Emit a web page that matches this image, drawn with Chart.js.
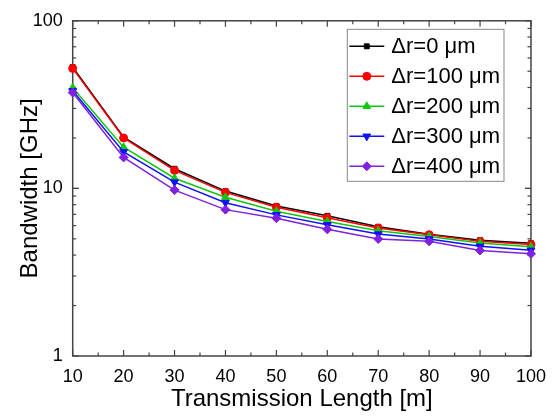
<!DOCTYPE html>
<html>
<head>
<meta charset="utf-8">
<script src="https://cdn.jsdelivr.net/npm/chart.js@4.4.1/dist/chart.umd.min.js"></script>
<style>
html, body { margin: 0; padding: 0; background: #fff; }
</style>
</head>
<body>
<canvas id="bandwidth" width="556" height="416"></canvas>
<script>
const lengths = [10, 20, 30, 40, 50, 60, 70, 80, 90, 100];
const seriesLabels = ['Δr=0 μm', 'Δr=100 μm', 'Δr=200 μm', 'Δr=300 μm', 'Δr=400 μm'];
const bw0   = [52.9, 20.2, 13.1, 9.64, 7.86, 6.86, 5.90, 5.33, 4.91, 4.71];
const bw100 = [52.0, 20.0, 12.8, 9.47, 7.72, 6.69, 5.80, 5.29, 4.83, 4.62];
const bw200 = [39.9, 17.6, 11.5, 8.85, 7.31, 6.35, 5.59, 5.17, 4.73, 4.48];
const bw300 = [38.2, 16.5, 10.9, 8.22, 6.95, 6.06, 5.34, 4.99, 4.51, 4.27];
const bw400 = [37.3, 15.3, 9.77, 7.47, 6.64, 5.70, 4.99, 4.83, 4.26, 4.07];
const yTickValues = [1, 10, 100];

const FONT = "'Liberation Sans', Arial, sans-serif";
const AXIS = '#444';

const styles = [
    { color: '#000000', pointStyle: 'rect', radius: 3.5, rotation: 0 },
    { color: '#ff0000', pointStyle: 'circle', radius: 4, rotation: 0 },
    { color: '#10c810', pointStyle: 'triangle', radius: 4.5, rotation: 0 },
    { color: '#1010ff', pointStyle: 'triangle', radius: 4.5, rotation: 180 },
    { color: '#8020e0', pointStyle: 'rectRot', radius: 4.5, rotation: 0 }
];
const allSeries = [bw0, bw100, bw200, bw300, bw400];

const datasets = allSeries.map((vals, i) => ({
    label: seriesLabels[i],
    data: lengths.map((x, j) => ({ x: x, y: vals[j] })),
    borderColor: styles[i].color,
    backgroundColor: styles[i].color,
    pointBackgroundColor: styles[i].color,
    pointBorderColor: styles[i].color,
    pointBorderWidth: 1,
    pointStyle: styles[i].pointStyle,
    pointRadius: styles[i].radius,
    pointRotation: styles[i].rotation,
    borderWidth: 1.5,
    tension: 0,
    clip: false,
    order: allSeries.length - i
}));

// box round the plot with inward ticks on all four sides
const frame = {
    id: 'frame',
    beforeDatasetsDraw(chart) {
        const { ctx, chartArea: a, scales } = chart;
        const xs = scales.x, ys = scales.y;
        ctx.save();
        ctx.strokeStyle = AXIS;
        ctx.lineWidth = 1.5;
        ctx.strokeRect(a.left, a.top, a.right - a.left, a.bottom - a.top);
        ctx.lineWidth = 1.2;
        const tick = (x1, y1, x2, y2) => {
            ctx.beginPath(); ctx.moveTo(x1, y1); ctx.lineTo(x2, y2); ctx.stroke();
        };
        const xt = xs.ticks.map(t => t.value);
        xt.forEach((v, k) => {
            const px = xs.getPixelForValue(v);
            tick(px, a.bottom, px, a.bottom - 6);
            tick(px, a.top, px, a.top + 6);
            if (k < xt.length - 1) {
                const mx = xs.getPixelForValue((v + xt[k + 1]) / 2);
                tick(mx, a.bottom, mx, a.bottom - 3.5);
                tick(mx, a.top, mx, a.top + 3.5);
            }
        });
        for (let d = ys.min; d < ys.max; d *= 10) {
            [d, d * 10].forEach(v => {
                const py = ys.getPixelForValue(v);
                tick(a.left, py, a.left + 6, py);
                tick(a.right, py, a.right - 6, py);
            });
            for (let m = 2; m <= 9; m++) {
                const py = ys.getPixelForValue(m * d);
                tick(a.left, py, a.left + 3.5, py);
                tick(a.right, py, a.right - 3.5, py);
            }
        }
        ctx.restore();
    }
};

// legend with line + marker samples inside the plot, top right
const boxLegend = {
    id: 'boxLegend',
    afterDatasetsDraw(chart) {
        const { ctx, chartArea: a } = chart;
        ctx.save();
        ctx.font = '22px ' + FONT;
        const textW = Math.max(...seriesLabels.map(s => ctx.measureText(s).width));
        const rowH = 30;
        const w = 44 + textW + 4;
        const h = rowH * seriesLabels.length + 2;
        const right = a.right - 27;
        const left = right - w;
        const top = a.top + 8.5;
        ctx.strokeStyle = '#888';
        ctx.lineWidth = 1;
        ctx.strokeRect(left, top, w, h);
        ctx.textBaseline = 'middle';
        ctx.textAlign = 'left';
        seriesLabels.forEach((label, i) => {
            const s = styles[i];
            const cy = top + 17 + i * rowH;
            ctx.strokeStyle = s.color;
            ctx.fillStyle = s.color;
            ctx.lineWidth = 1.5;
            ctx.beginPath();
            ctx.moveTo(left + 2, cy);
            ctx.lineTo(left + 37, cy);
            ctx.stroke();
            ctx.lineWidth = 1;
            Chart.helpers.drawPoint(ctx, {
                pointStyle: s.pointStyle, radius: s.radius, rotation: s.rotation, borderWidth: 1
            }, left + 19.5, cy);
            ctx.fillStyle = '#000';
            ctx.fillText(label, left + 44, cy + 1);
        });
        ctx.restore();
    }
};

new Chart(document.getElementById('bandwidth'), {
    type: 'line',
    data: { datasets: datasets },
    options: {
        responsive: false,
        animation: false,
        layout: { padding: { top: 19.5, right: 25, left: 0, bottom: 0 } },
        plugins: { legend: { display: false }, tooltip: { enabled: false } },
        scales: {
            x: {
                type: 'linear',
                min: 10,
                max: 100,
                grid: { display: false, drawTicks: false },
                border: { display: false },
                ticks: { stepSize: 10, padding: 10, color: '#000', font: { family: FONT, size: 18 } },
                title: {
                    display: true,
                    text: 'Transmission Length [m]',
                    color: '#000',
                    font: { family: FONT, size: 24, lineHeight: 1.2 },
                    padding: { top: 0, bottom: 2 }
                },
                afterFit(scale) { scale.height = 60; }
            },
            y: {
                type: 'logarithmic',
                min: 1,
                max: 100,
                grid: { display: false, drawTicks: false },
                border: { display: false },
                afterBuildTicks(scale) {
                    scale.ticks = yTickValues.map(v => ({ value: v }));
                },
                ticks: {
                    autoSkip: false,
                    padding: 10,
                    color: '#000',
                    font: { family: FONT, size: 18 },
                    callback: v => String(v)
                },
                title: {
                    display: true,
                    text: 'Bandwidth [GHz]',
                    color: '#000',
                    font: { family: FONT, size: 24, lineHeight: 1.2 },
                    padding: { top: 15.6, bottom: 0 }
                },
                afterFit(scale) { scale.width = 72.7; }
            }
        }
    },
    plugins: [frame, boxLegend]
});
</script>
</body>
</html>
